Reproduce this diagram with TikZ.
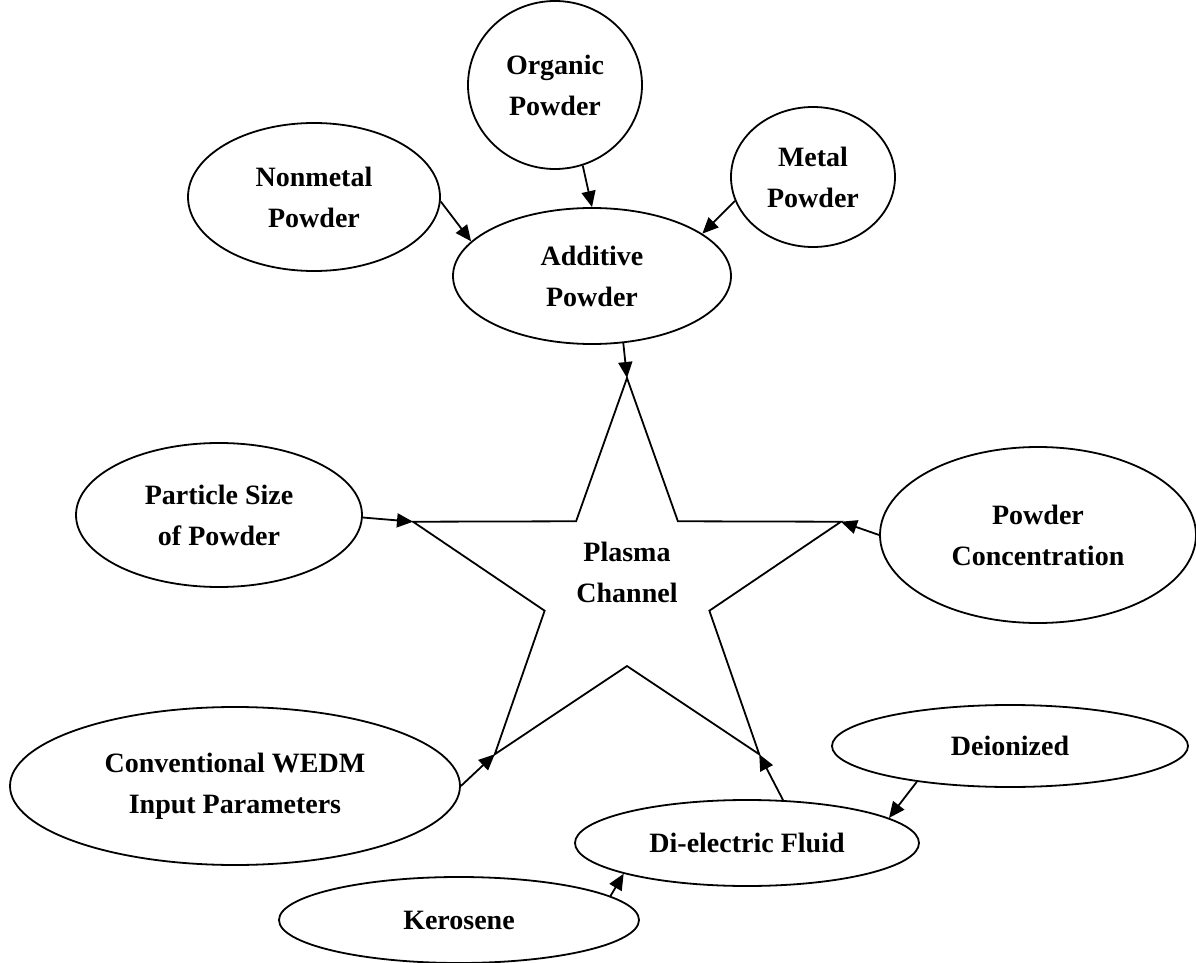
\documentclass[tikz,border=0pt]{standalone}
\usepackage{fontspec}
\setmainfont{Liberation Serif}
\usetikzlibrary{arrows.meta,shapes.geometric}
\tikzset{
  ar/.style={-{Triangle[length=8pt,width=7pt]},line width=0.9pt},
  bub/.style={ellipse,draw,line width=0.9pt,inner sep=0pt,align=center,font=\fontsize{14}{20.5}\selectfont\bfseries}
}
\begin{document}
\begin{tikzpicture}[x=0.5pt,y=-0.5pt]
\useasboundingbox (0,0) rectangle (1196,963);
\node[bub,minimum width=87pt,minimum height=84pt] (organic) at (555,85) {Organic\\Powder};
\node[bub,minimum width=126pt,minimum height=74pt] (nonmetal) at (314,197) {Nonmetal\\Powder};
\node[bub,minimum width=82pt,minimum height=70pt] (metal) at (813,177) {Metal\\Powder};
\node[bub,minimum width=139pt,minimum height=68pt] (additive) at (592,276) {Additive\\Powder};
\node[bub,minimum width=143pt,minimum height=72pt] (particle) at (219,515) {Particle Size\\of Powder};
\node[bub,minimum width=158pt,minimum height=88pt] (conc) at (1038,535) {Powder\\Concentration};
\node[bub,minimum width=225pt,minimum height=79pt] (conv) at (235,786) {Conventional WEDM\\Input Parameters};
\node[bub,minimum width=178pt,minimum height=41pt] (deion) at (1010,746) {Deionized};
\node[bub,minimum width=172pt,minimum height=43pt] (dielectric) at (747,843) {Di-electric Fluid};
\node[bub,minimum width=180pt,minimum height=43pt] (kero) at (459,920) {Kerosene};
\foreach \k in {0,...,4}{
 \coordinate (tip\k) at ({627+225*cos(90+72*\k)},{586-208*sin(90+72*\k)});
 \coordinate (dip\k) at ({627+86.6*cos(126+72*\k)},{586-80*sin(126+72*\k)});}
\draw[line width=0.9pt] (tip0)--(dip0)--(tip1)--(dip1)--(tip2)--(dip2)--(tip3)--(dip3)--(tip4)--(dip4)--cycle;
\node[align=center,font=\fontsize{14}{20.5}\selectfont\bfseries] (plasma) at (627,572) {Plasma\\Channel};
\draw[ar] (organic.289) -- (additive.90);
\draw[ar] (nonmetal.-2) -- (additive.164);
\draw[ar] (metal.197) -- (additive.21);
\draw[ar] (additive.-65) -- (tip0);
\draw[ar] (particle.-1) -- (tip1);
\draw[ar] (conc.west) -- (tip4);
\draw[ar] (conv.east) -- (tip2);
\draw[ar] (dielectric.50) -- (tip3);
\draw[ar] (deion.201) -- (dielectric.10);
\draw[ar] (kero.9) -- (dielectric.194);
\end{tikzpicture}
\end{document}
